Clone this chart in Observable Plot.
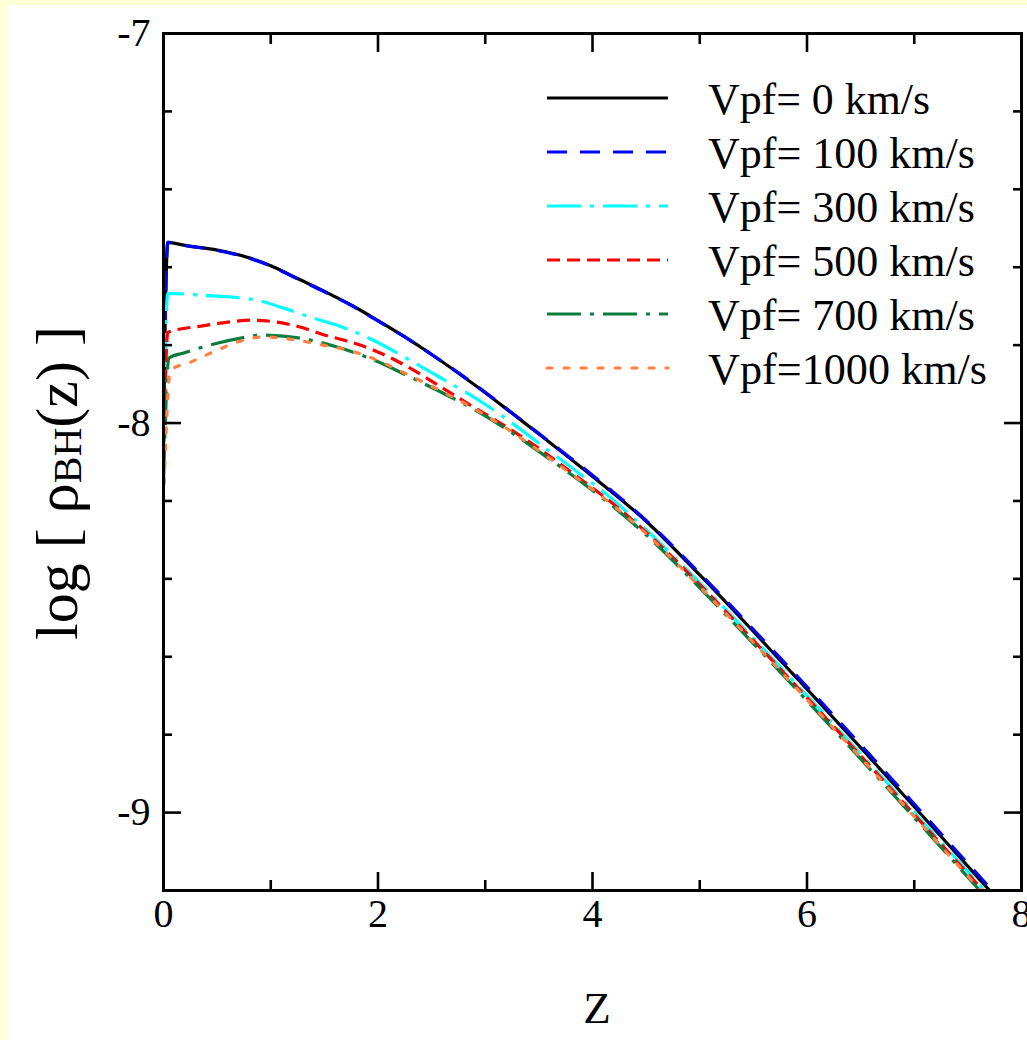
<!DOCTYPE html>
<html><head><meta charset="utf-8">
<script src="https://cdn.jsdelivr.net/npm/d3@7"></script>
<script src="https://cdn.jsdelivr.net/npm/@observablehq/plot@0.6"></script>
<style>
html,body{margin:0;padding:0;background:#ffffd6;}
body{width:1027px;height:1040px;overflow:hidden;position:relative;}
#panel{position:absolute;left:8px;top:5px;width:1019px;height:1035px;background:#fff;}
</style></head><body><div id="panel"></div>
<script>
// ---- data ----
const SERIES = ["Vpf= 0 km/s","Vpf= 100 km/s","Vpf= 300 km/s","Vpf= 500 km/s","Vpf= 700 km/s","Vpf=1000 km/s"];
const COLORS = ["#000000","#0000ff","#00ffff","#ff0000","#0a7d3c","#ff8040"];
const DASHES = [null,"20,13","34,9,4,9","13,7","34,9,4,9","5,12"];
const CAPS = ["butt","butt","butt","butt","butt","round"];
const LEGEND_WIDTHS = [222,267,267,267,267,279];

const z0 = [0.0,0.04,0.2,0.5,0.8,1.0,1.25,1.5,1.75,2.0,2.25,2.5,2.75,3.0,3.25,3.5,3.75,4.0,4.5,5.0,5.5,6.0,6.5,7.0,7.5,7.8];
const v0 = [-8.0,-7.536,-7.544,-7.556,-7.576,-7.596,-7.629,-7.662,-7.697,-7.737,-7.779,-7.824,-7.872,-7.922,-7.975,-8.028,-8.082,-8.137,-8.252,-8.390,-8.535,-8.683,-8.833,-8.985,-9.138,-9.230];
const z1 = [0.0,0.04,0.2,0.5,0.8,1.0,1.25,1.5,1.75,2.0,2.25,2.5,2.75,3.0,3.25,3.5,3.75,4.0,4.5,5.0,5.5,6.0,6.5,7.0,7.5,7.8];
const v1 = [-8.0,-7.536,-7.544,-7.557,-7.577,-7.597,-7.630,-7.663,-7.698,-7.738,-7.779,-7.824,-7.871,-7.921,-7.974,-8.027,-8.080,-8.134,-8.250,-8.386,-8.530,-8.677,-8.826,-8.978,-9.131,-9.222];
const z2 = [0.0,0.04,0.35,0.65,0.88,1.12,1.37,1.65,1.96,2.28,2.59,2.89,3.21,3.52,3.83,4.14,4.5,5.0,5.5,6.0,6.5,7.0,7.5,7.8];
const v2 = [-8.0,-7.667,-7.672,-7.677,-7.685,-7.705,-7.728,-7.752,-7.788,-7.836,-7.885,-7.933,-7.992,-8.056,-8.120,-8.185,-8.274,-8.410,-8.553,-8.700,-8.849,-9.000,-9.151,-9.243];
const z3 = [0.0,0.04,0.35,0.6,0.81,1.06,1.28,1.5,1.72,1.96,2.28,2.59,2.89,3.21,3.52,3.83,4.14,4.5,5.0,5.5,6.0,6.5,7.0,7.5,7.8];
const v3 = [-8.1,-7.767,-7.751,-7.741,-7.736,-7.741,-7.754,-7.774,-7.790,-7.813,-7.856,-7.908,-7.959,-8.012,-8.069,-8.132,-8.196,-8.280,-8.415,-8.558,-8.705,-8.854,-9.005,-9.157,-9.248];
const z4 = [0.0,0.05,0.19,0.5,0.72,0.91,1.12,1.37,1.62,1.96,2.28,2.59,2.89,3.21,3.52,3.83,4.14,4.5,5.0,5.5,6.0,6.5,7.0,7.5,7.8];
const v4 = [-8.15,-7.833,-7.820,-7.795,-7.782,-7.774,-7.777,-7.787,-7.805,-7.838,-7.879,-7.921,-7.964,-8.018,-8.077,-8.138,-8.203,-8.287,-8.423,-8.566,-8.713,-8.862,-9.013,-9.166,-9.258];
const z5 = [0.0,0.065,0.25,0.5,0.69,0.93,1.19,1.49,1.72,1.96,2.28,2.59,2.89,3.21,3.52,3.83,4.14,4.5,5.0,5.5,6.0,6.5,7.0,7.5,7.8];
const v5 = [-8.2,-7.864,-7.844,-7.813,-7.792,-7.779,-7.785,-7.800,-7.813,-7.835,-7.876,-7.918,-7.962,-8.016,-8.075,-8.136,-8.200,-8.284,-8.420,-8.563,-8.710,-8.859,-9.010,-9.163,-9.255];

const X_MAJOR = [0,2,4,6,8];
const X_MINOR = [1,3,5,7];
const Y_MAJOR = [-9,-8,-7];
const Y_MINOR = [-8.8,-8.6,-8.4,-8.2,-7.8,-7.6,-7.4,-7.2];

const ZS = [z0,z1,z2,z3,z4,z5];
const VS = [v0,v1,v2,v3,v4,v5];
const seriesData = ZS.map((zs,i)=> zs.map((z,j)=>({z, v: VS[i][j], s: SERIES[i]})));

const LINE_W = 3.2;
const tickW = 2.6;
const fmt = d => String(d);
const marks = [];
seriesData.forEach((d,i)=>{
  marks.push(Plot.line(d, {x:"z", y:"v", stroke: COLORS[i], strokeWidth: LINE_W,
    strokeDasharray: DASHES[i], strokeLinecap: CAPS[i], curve: "monotone-x", clip: true}));
});
// inward ticks, all four sides
for (const anchor of ["bottom","top"]) {
  marks.push(Plot.axisX(X_MAJOR, {anchor, tickSize:-18, tickFormat:()=>"", label:null, strokeWidth:tickW}));
  marks.push(Plot.axisX(X_MINOR, {anchor, tickSize:-10, tickFormat:()=>"", label:null, strokeWidth:tickW}));
}
for (const anchor of ["left","right"]) {
  marks.push(Plot.axisY(Y_MAJOR, {anchor, tickSize:-18, tickFormat:()=>"", label:null, strokeWidth:tickW}));
  marks.push(Plot.axisY(Y_MINOR, {anchor, tickSize:-9, tickFormat:()=>"", label:null, strokeWidth:tickW}));
}
marks.push(Plot.axisX(X_MAJOR, {anchor:"bottom", tickSize:0, tickPadding:8, fontSize:40, tickFormat:fmt, label:null}));
marks.push(Plot.axisY(Y_MAJOR, {anchor:"left", tickSize:0, tickPadding:13, fontSize:40, tickFormat:fmt, label:null}));
marks.push(Plot.frame({stroke:"black", strokeWidth:3}));

const plot = Plot.plot({
  width: 1019, height: 1035,
  marginLeft: 155, marginRight: 6, marginTop: 28, marginBottom: 150,
  x: {domain:[0,8], label:null},
  y: {domain:[-9.2,-7], label:null},
  style: {fontFamily:"'Liberation Serif', serif", color:"black", background:"white", overflow:"visible"},
  marks
});
document.getElementById("panel").appendChild(plot);

const svg = d3.select(plot);
const FONT = "'Liberation Serif', serif";
// y label
const yl = svg.append("text").attr("transform","translate(69,478) rotate(-90)")
  .attr("text-anchor","middle").attr("font-size",60).attr("font-family",FONT).attr("fill","black")
  .style("white-space","pre");
yl.append("tspan").text("log [ ρ");
yl.append("tspan").attr("font-size",40).attr("dy",4).text("BH");
yl.append("tspan").attr("dy",-4).text("(z) ]");
// x label
svg.append("text").attr("x",589).attr("y",1018).attr("text-anchor","middle")
  .attr("font-size",45).attr("font-family",FONT).attr("fill","black").text("Z");
// legend
const lg = svg.append("g").attr("text-anchor","start");
SERIES.forEach((s,i)=>{
  const y = 93 + i*54;
  lg.append("line").attr("x1",539).attr("x2",660).attr("y1",y).attr("y2",y)
    .attr("stroke",COLORS[i]).attr("stroke-width",LINE_W)
    .attr("stroke-dasharray",DASHES[i]).attr("stroke-linecap",CAPS[i]);
  lg.append("text").attr("x",700).attr("y",y+16).attr("font-size",45)
    .attr("text-anchor","start")
    .attr("textLength",LEGEND_WIDTHS[i]).attr("lengthAdjust","spacingAndGlyphs")
    .attr("font-family",FONT).attr("fill","black").style("white-space","pre").text(s);
});
</script></body></html>
